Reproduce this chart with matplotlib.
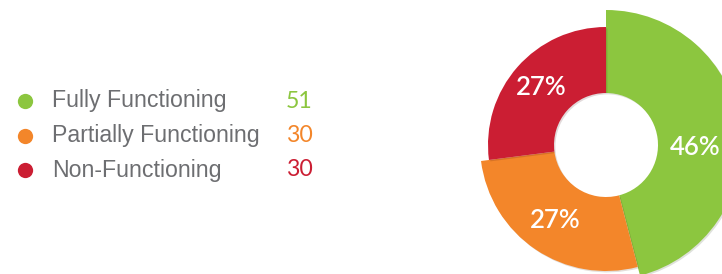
import matplotlib.pyplot as plt
import matplotlib.patheffects as pe
import numpy as np

labels = ['Fully Functioning', 'Partially Functioning', 'Non-Functioning']
counts = [51, 30, 30]
colors = ['#8cc63f', '#f3862a', '#cb1e33']
outer_radii = [135, 126, 118]
inner_radius = 52

W, H = 722, 274
fig = plt.figure(figsize=(W / 100, H / 100), dpi=100)
ax = fig.add_axes([0, 0, 1, 1])

# donut, pixel coordinates with y pointing up
cx, cy = 606, H - 145
wedges, _ = ax.pie(counts, colors=colors, startangle=90, counterclock=False,
                   center=(cx, cy), radius=outer_radii[0],
                   wedgeprops=dict(width=outer_radii[0] - inner_radius, linewidth=0))
for w, r in zip(wedges, outer_radii):
    w.set_radius(r)
    w.set_width(r - inner_radius)
    w.set_path_effects([pe.SimplePatchShadow(offset=(1, -1), alpha=0.15), pe.Normal()])

total = sum(counts)
label_shift = [(-6, -15), (0, 0), (0, 0)]
for w, c, r, (dx, dy) in zip(wedges, counts, outer_radii, label_shift):
    ang = np.deg2rad((w.theta1 + w.theta2) / 2)
    rr = (r + inner_radius) / 2 + 2
    ax.text(cx + rr * np.cos(ang) + dx, cy + rr * np.sin(ang) + dy,
            '{:.0f}%'.format(100 * c / total), color='white', fontsize=18.5,
            family='Lato', weight='semibold', ha='center', va='center')

# legend
for i, (lab, c, col) in enumerate(zip(labels, counts, colors)):
    y = H - (101 + 34.5 * i)
    ax.plot(25, y, 'o', color=col, markersize=11, markeredgewidth=0)
    ax.text(52, y, lab, color='#6d6e71', fontsize=16.7, family='Liberation Sans',
            ha='left', va='center')
    ax.text(286, y, str(c), color=col, fontsize=16.7, family='Lato',
            ha='left', va='center')

ax.set_xlim(0, W)
ax.set_ylim(0, H)
ax.set_aspect('auto')
ax.axis('off')
fig.savefig('out.png', dpi=100)
